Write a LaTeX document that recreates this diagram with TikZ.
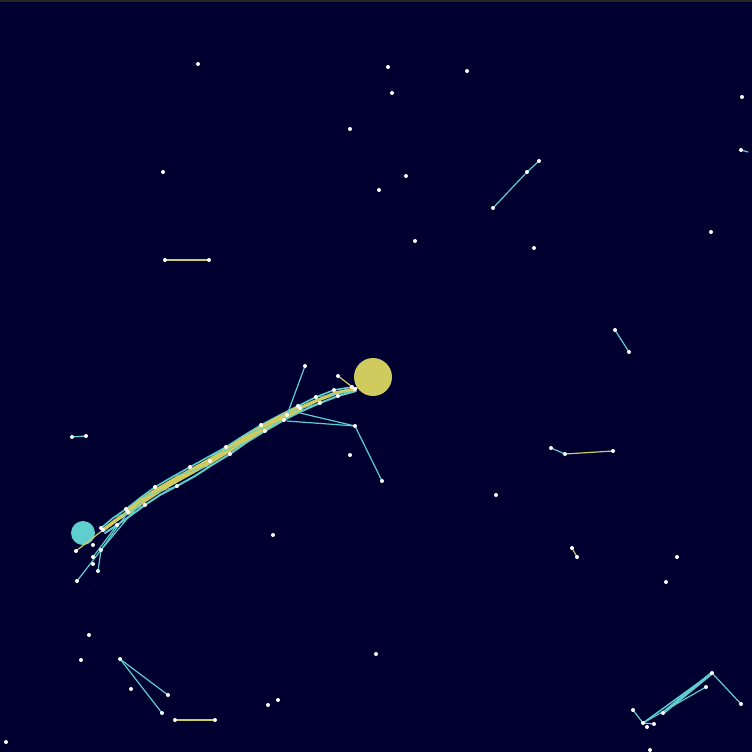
\documentclass[tikz,border=0pt]{standalone}
\usepackage{tikz}
\usetikzlibrary{positioning}
\usepackage{xcolor}
\definecolor{skyback}{RGB}{0,0,48}
\definecolor{linkcyan}{RGB}{94,206,206}
\definecolor{linkyellow}{RGB}{207,203,94}

\begin{document}
\begin{tikzpicture}[x=1pt, y=-1pt,
  cyanedge/.style={draw=linkcyan, line width=1.2pt, line cap=round},
  yellowedge/.style={draw=linkyellow, line width=1.2pt, line cap=round},
  hub/.style={circle, inner sep=0pt}]
  % background and top strip
  \fill[skyback] (0,0) rectangle (752,752);
  \fill[black!85] (0,0) rectangle (752,2);
  \useasboundingbox (0,0) rectangle (752,752);

  % the two hubs
  \node[hub, fill=linkyellow, minimum size=38pt] (hubyellow) at (373,377) {};
  \node[hub, fill=linkcyan, minimum size=24pt] (hubcyan) at (83,533) {};

  % the long streak: middle, lower and upper strands
  \foreach \n/\x/\y in {1/103/530, 2/115/521, 3/128/512, 4/142/501, 5/157/491,
      6/174/481, 7/192/471, 8/210/461, 9/228/450, 10/245/439, 11/263/428,
      12/282/417, 13/300/408, 14/318/400, 15/336/393, 16/355/389}
    \coordinate (s\n) at (\x,\y);
  \foreach \n/\x/\y in {1/105/533, 2/117/525, 3/130/516, 4/145/505, 5/160/495,
      6/177/486, 7/195/476, 8/212/465, 9/230/454, 10/247/442, 11/265/431,
      12/284/420, 13/302/411, 14/320/403, 15/338/396, 16/356/391}
    \coordinate (t\n) at (\x,\y);
  \foreach \n/\x/\y in {1/101/528, 2/113/518, 3/126/509, 4/140/498, 5/155/487,
      6/172/477, 7/190/467, 8/208/457, 9/226/447, 10/243/436, 11/261/425,
      12/280/415, 13/298/406, 14/316/397, 15/334/390, 16/352/387}
    \coordinate (u\n) at (\x,\y);

  % loose points round the streak
  \coordinate (p1) at (305,366);  \coordinate (p2) at (287,415);
  \coordinate (p3) at (338,376);  \coordinate (p4) at (355,426);
  \coordinate (p5) at (382,481);  \coordinate (p6) at (287,421);
  \coordinate (p7) at (300,413);
  \coordinate (q1) at (77,581);   \coordinate (q2) at (93,545);
  \coordinate (q3) at (101,550);  \coordinate (q4) at (93,557);
  \coordinate (q5) at (93,564);   \coordinate (q6) at (98,571);
  \coordinate (q7) at (76,551);

  % small groups
  \coordinate (c1) at (741,150);  \coordinate (c2) at (748,152);
  \coordinate (c3) at (493,208);  \coordinate (c4) at (527,172);
  \coordinate (c5) at (539,161);
  \coordinate (y1) at (165,260);  \coordinate (y2) at (209,260);
  \coordinate (c6) at (615,330);  \coordinate (c7) at (629,352);
  \coordinate (c8) at (72,437);   \coordinate (c9) at (86,436);
  \coordinate (c10) at (551,448); \coordinate (c11) at (565,454);
  \coordinate (y3) at (613,451);
  \coordinate (y4) at (572,548);  \coordinate (y5) at (577,557);
  \coordinate (b1) at (120,659);  \coordinate (b2) at (168,695);
  \coordinate (b3) at (162,713);
  \coordinate (y6) at (175,720);  \coordinate (y7) at (215,720);
  \coordinate (r1) at (712,673);  \coordinate (r2) at (741,704);
  \coordinate (r3) at (706,687);  \coordinate (r4) at (663,713);
  \coordinate (r5) at (633,710);  \coordinate (r6) at (643,723);
  \coordinate (r7) at (654,724);  \coordinate (r8) at (647,727);

  % streak links: cyan fringes under a yellow core
  \foreach \i in {1,...,15} {
    \pgfmathtruncatemacro\j{\i+1}
    \draw[cyanedge, line width=2pt] (t\i) -- (t\j);
    \draw[cyanedge, line width=1.6pt] (u\i) -- (u\j);
  }
  \foreach \i in {3,...,12} {
    \pgfmathtruncatemacro\j{\i+1}
    \draw[yellowedge, line width=6pt] (s\i) -- (s\j);
  }
  \foreach \i in {1,...,15} {
    \pgfmathtruncatemacro\j{\i+1}
    \draw[yellowedge, line width=3.5pt] (s\i) -- (s\j);
  }
  \foreach \i in {2,4,...,14} {
    \pgfmathtruncatemacro\j{\i+2}
    \draw[cyanedge, line width=.7pt] (u\i) -- (t\j);
  }
  \draw[yellowedge, line width=2pt] (s16) -- (hubyellow);
  \draw[cyanedge] (p1) -- (p2);
  \draw[yellowedge] (p3) -- (s16);
  \draw[cyanedge] (p4) -- (p5);
  \draw[cyanedge] (p4) -- (p6);
  \draw[cyanedge] (p4) -- (p7);
  \draw[cyanedge] (q1) -- (q3);
  \draw[cyanedge] (q6) -- (q3);
  \draw[cyanedge] (q3) -- (s3);
  \draw[cyanedge] (q3) -- (s4);
  \draw[cyanedge] (q4) -- (t2);
  \draw[yellowedge] (q7) -- (s1);

  % small group links
  \draw[cyanedge] (c1) -- (c2);
  \draw[cyanedge] (c3) -- (c4) -- (c5);
  \draw[yellowedge] (y1) -- (y2);
  \draw[cyanedge] (c6) -- (c7);
  \draw[cyanedge] (c8) -- (c9);
  \draw[cyanedge] (c10) -- (c11);
  \draw[yellowedge] (c11) -- (y3);
  \draw[yellowedge] (y4) -- (y5);
  \draw[cyanedge] (b1) -- (b2);
  \draw[cyanedge] (b1) -- (b3);
  \draw[yellowedge] (y6) -- (y7);
  \draw[cyanedge] (r1) -- (r2);
  \draw[cyanedge, line width=3pt] (r1) -- (r4);
  \draw[cyanedge, line width=1.5pt] (r1) -- (r6);
  \draw[cyanedge] (r3) -- (r6);
  \draw[cyanedge] (r5) -- (r6);
  \draw[cyanedge] (r6) -- (r7);

  % dots on linked points
  \foreach \p in {s1,s3,s8,s13,s16,t2,t4,t6,t9,t11,t12,t14,t15,
      u1,u3,u5,u7,u9,u11,u13,u14,u15,u16,p1,p2,p3,p4,p5,
      q1,q2,q3,q4,q5,q6,q7,c1,c3,c4,c5,y1,y2,c6,c7,c8,c9,c10,c11,y3,
      y4,y5,b1,b2,b3,y6,y7,r1,r2,r3,r4,r5,r6,r7,r8}
    \fill[white] (\p) circle (2);

  % lone dots
  \foreach \x/\y in {198/64, 388/67, 467/71, 392/93, 742/97, 350/129,
      163/172, 406/176, 379/190, 415/241, 534/248, 711/232, 350/455,
      496/495, 273/535, 677/557, 666/582, 89/635, 81/660, 131/689,
      376/654, 268/705, 278/700, 6/742, 650/750}
    \fill[white] (\x,\y) circle (2);
\end{tikzpicture}
\end{document}
